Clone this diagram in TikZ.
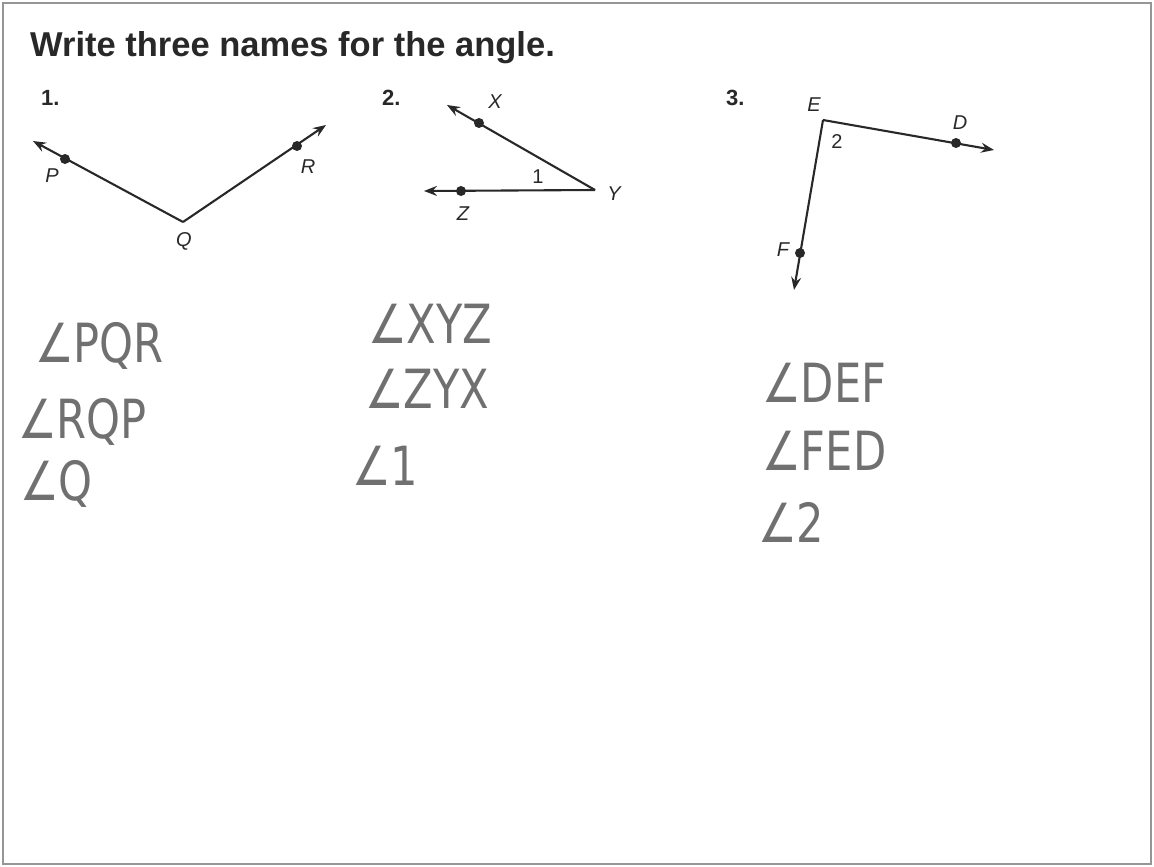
\documentclass[tikz,border=0pt]{standalone}
\usepackage{fontspec}
\setmainfont{Liberation Sans}
\newfontfamily\handfont[FakeStretch=0.8]{DejaVu Sans}
\usepackage{tikz}
\usetikzlibrary{arrows.meta}
\definecolor{inkgray}{RGB}{112,112,112}
\definecolor{framegray}{RGB}{150,150,150}
\definecolor{linegray}{RGB}{40,40,40}

\begin{document}
\begin{tikzpicture}[x=1pt, y=-1pt,
  title/.style={font=\bfseries\fontsize{34.5}{38}\selectfont, text=linegray,
                anchor=base west, inner sep=0pt},
  num/.style={font=\bfseries\fontsize{22}{25}\selectfont, text=linegray,
              anchor=base west, inner sep=0pt},
  pt/.style={font=\itshape\fontsize{20}{23}\selectfont, text=linegray, inner sep=0pt},
  anglenum/.style={font=\fontsize{20}{23}\selectfont, text=linegray, inner sep=0pt},
  dot/.style={circle, fill=linegray, inner sep=0pt, minimum size=10pt},
  ray/.style={draw=linegray, line width=2.1pt,
              -{Stealth[length=13pt, width=10pt, inset=4.5pt]}},
  hand/.style={font=\handfont\fontsize{54}{58}\selectfont, text=inkgray,
               anchor=base west, inner sep=0pt}
]
\useasboundingbox (0,0) rectangle (1154,867);

% page frame
\draw[framegray, line width=1.5pt] (3,3) rectangle (1151,864);

% heading
\node[title] (head) at (30,57) {Write three names for the angle.};

% exercise 1: angle PQR
\node[num] (n1) at (41,106) {1.};
\coordinate (Q) at (183,222);
\coordinate (ptip) at (33,141);
\coordinate (rtip) at (326,125);
\draw[ray] (Q) -- (ptip);
\draw[ray] (Q) -- (rtip);
\node[dot] (P) at (65,159) {};
\node[dot] (R) at (297,146) {};
\node[pt] (lP) at (52,176) {P};
\node[pt] (lR) at (308,167) {R};
\node[pt] (lQ) at (184,241) {Q};

% exercise 2: angle XYZ
\node[num] (n2) at (382,106) {2.};
\coordinate (Y) at (595,190);
\coordinate (xtip) at (447,105);
\coordinate (ztip) at (424,191);
\draw[ray] (Y) -- (xtip);
\draw[ray] (Y) -- (ztip);
\node[dot] (X) at (479,123) {};
\node[dot] (Z) at (461,191) {};
\node[pt] (lX) at (495,102) {X};
\node[pt] (lY) at (614,194) {Y};
\node[pt] (lZ) at (463,214) {Z};
\node[anglenum] (m1) at (538,177) {1};

% exercise 3: angle DEF
\node[num] (n3) at (726,106) {3.};
\coordinate (E) at (823,120);
\coordinate (dtip) at (994,150);
\coordinate (ftip) at (794,290);
\draw[ray] (E) -- (dtip);
\draw[ray] (E) -- (ftip);
\node[dot] (D) at (956,143) {};
\node[dot] (F) at (800,253) {};
\node[pt] (lE) at (814,105) {E};
\node[pt] (lD) at (960,123) {D};
\node[pt] (lF) at (783,250) {F};
\node[anglenum] (m2) at (837,142) {2};

% handwritten answers
\node[hand] (a1) at (35,362) {∠PQR};
\node[hand] (a2) at (18,438) {∠RQP};
\node[hand] (a3) at (20,500) {∠Q};
\node[hand] (b1) at (368,343) {∠XYZ};
\node[hand] (b2) at (365,408) {∠ZYX};
\node[hand] (b3) at (352,485) {∠1};
\node[hand] (c1) at (762,402) {∠DEF};
\node[hand] (c2) at (762,470) {∠FED};
\node[hand] (c3) at (758,542) {∠2};

\end{tikzpicture}
\end{document}
